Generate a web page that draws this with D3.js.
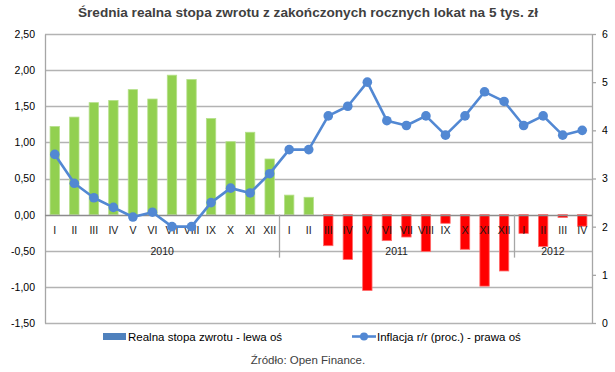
<!DOCTYPE html>
<html>
<head>
<meta charset="utf-8">
<script src="https://cdn.jsdelivr.net/npm/d3@7"></script>
<style>
  body { margin: 0; background: #fff; }
  svg { display: block; font-family: "Liberation Sans", Arial, sans-serif; }
</style>
</head>
<body>
<svg id="chart" width="615" height="372"></svg>
<script>
// categories
var months = ["I","II","III","IV","V","VI","VII","VIII","IX","X","XI","XII",
              "I","II","III","IV","V","VI","VII","VIII","IX","X","XI","XII",
              "I","II","III","IV"];
var years = [
    { label: "2010", first: 0, last: 11 },
    { label: "2011", first: 12, last: 23 },
    { label: "2012", first: 24, last: 27 },
];

// series
var realRate = [1.22, 1.35, 1.55, 1.58, 1.73, 1.60, 1.93, 1.87, 1.33, 1.01, 1.14, 0.77,
                0.27, 0.24, -0.43, -0.62, -1.05, -0.36, -0.31, -0.51, -0.12, -0.48, -0.99, -0.78,
                -0.26, -0.44, -0.04, -0.16];
var inflation = [3.5, 2.9, 2.6, 2.4, 2.2, 2.3, 2.0, 2.0, 2.5, 2.8, 2.7, 3.1,
                 3.6, 3.6, 4.3, 4.5, 5.0, 4.2, 4.1, 4.3, 3.9, 4.3, 4.8, 4.6,
                 4.1, 4.3, 3.9, 4.0];

// ticks
var leftTicks = [-1.5, -1.0, -0.5, 0, 0.5, 1.0, 1.5, 2.0, 2.5];
var rightTicks = [0, 1, 2, 3, 4, 5, 6];

var svg = d3.select("#chart");

var plot = { left: 45, right: 592, top: 34, bottom: 323 };

var x = d3.scaleBand()
    .domain(d3.range(months.length))
    .range([plot.left, plot.right])
    .padding(0);

var yLeft = d3.scaleLinear()
    .domain([-1.5, 2.5])
    .range([plot.bottom, plot.top]);

var yRight = d3.scaleLinear()
    .domain([0, 6])
    .range([plot.bottom, plot.top]);

var fmt = d => d.toFixed(2).replace(".", ",");

// title
svg.append("text")
    .attr("x", 308)
    .attr("y", 17)
    .attr("text-anchor", "middle")
    .attr("font-size", "13.6px")
    .attr("font-weight", "bold")
    .attr("fill", "#404040")
    .text("Średnia realna stopa zwrotu z zakończonych rocznych lokat na 5 tys. zł");

// grid
svg.append("g")
    .selectAll("line")
    .data(leftTicks.filter(d => d !== 0))
    .join("line")
    .attr("x1", plot.left)
    .attr("x2", plot.right)
    .attr("y1", d => Math.round(yLeft(d)) + 0.5)
    .attr("y2", d => Math.round(yLeft(d)) + 0.5)
    .attr("stroke", "#b3b3b3")
    .attr("stroke-width", 1.3);

// left axis
var leftAxis = svg.append("g")
    .attr("transform", `translate(${plot.left},0)`)
    .call(d3.axisLeft(yLeft).tickValues(leftTicks).tickSize(0).tickPadding(10).tickFormat(fmt));
leftAxis.select(".domain").attr("stroke", "#a6a6a6").attr("stroke-width", 1.3);
leftAxis.selectAll("text").attr("font-size", "10.5px").attr("fill", "#000");

// right axis
var rightAxis = svg.append("g")
    .attr("transform", `translate(${plot.right},0)`)
    .call(d3.axisRight(yRight).tickValues(rightTicks).tickSize(4).tickSizeOuter(0).tickPadding(6).tickFormat(d3.format("d")));
rightAxis.selectAll(".domain, line").attr("stroke", "#a6a6a6").attr("stroke-width", 1.3);
rightAxis.selectAll("text").attr("font-size", "10.5px").attr("fill", "#000");

// bars
var barW = x.bandwidth() * 0.48;
svg.append("g")
    .selectAll("rect")
    .data(realRate)
    .join("rect")
    .attr("x", (d, i) => x(i) + (x.bandwidth() - barW) / 2)
    .attr("y", d => yLeft(Math.max(0, d)))
    .attr("width", barW)
    .attr("height", d => Math.abs(yLeft(d) - yLeft(0)))
    .attr("fill", d => d >= 0 ? "#92d050" : "#ff0000")
    .attr("stroke", d => d >= 0 ? "#b5e08a" : "#ff6b6b")
    .attr("stroke-width", 0.8);

// category axis line at zero
svg.append("line")
    .attr("x1", plot.left)
    .attr("x2", plot.right)
    .attr("y1", Math.round(yLeft(0)) + 0.5)
    .attr("y2", Math.round(yLeft(0)) + 0.5)
    .attr("stroke", "#8c8c8c")
    .attr("stroke-width", 1.3);

// year separators
svg.append("g")
    .selectAll("line")
    .data(years.slice(1))
    .join("line")
    .attr("x1", d => Math.round(x(d.first)) + 0.5)
    .attr("x2", d => Math.round(x(d.first)) + 0.5)
    .attr("y1", yLeft(0))
    .attr("y2", yLeft(0) + 43)
    .attr("stroke", "#a6a6a6")
    .attr("stroke-width", 1.3);

// month labels
svg.append("g")
    .selectAll("text")
    .data(months)
    .join("text")
    .attr("x", (d, i) => x(i) + x.bandwidth() / 2)
    .attr("y", yLeft(0) + 19)
    .attr("text-anchor", "middle")
    .attr("font-size", "10.5px")
    .attr("fill", "#1a1a1a")
    .text(d => d);

// year labels
svg.append("g")
    .selectAll("text")
    .data(years)
    .join("text")
    .attr("x", d => (x(d.first) + x(d.last) + x.bandwidth()) / 2)
    .attr("y", yLeft(0) + 40)
    .attr("text-anchor", "middle")
    .attr("font-size", "10.5px")
    .attr("fill", "#1a1a1a")
    .text(d => d.label);

// inflation line
var lineColor = "#5288d3";
var line = d3.line()
    .x((d, i) => x(i) + x.bandwidth() / 2)
    .y(d => yRight(d));

svg.append("path")
    .datum(inflation)
    .attr("d", line)
    .attr("fill", "none")
    .attr("stroke", lineColor)
    .attr("stroke-width", 2.6)
    .attr("stroke-linejoin", "round");

svg.append("g")
    .selectAll("circle")
    .data(inflation)
    .join("circle")
    .attr("cx", (d, i) => x(i) + x.bandwidth() / 2)
    .attr("cy", d => yRight(d))
    .attr("r", 4.8)
    .attr("fill", lineColor);

// legend
var legend = svg.append("g").attr("font-size", "11.5px").attr("fill", "#000");
legend.append("rect")
    .attr("x", 103).attr("y", 333)
    .attr("width", 23).attr("height", 7)
    .attr("fill", "#4f81bd");
legend.append("text")
    .attr("x", 128).attr("y", 341)
    .text("Realna stopa zwrotu - lewa oś");
legend.append("line")
    .attr("x1", 352).attr("x2", 376)
    .attr("y1", 336.5).attr("y2", 336.5)
    .attr("stroke", lineColor)
    .attr("stroke-width", 2.6);
legend.append("circle")
    .attr("cx", 364).attr("cy", 336.5)
    .attr("r", 4)
    .attr("fill", lineColor);
legend.append("text")
    .attr("x", 377).attr("y", 341)
    .text("Inflacja r/r (proc.) - prawa oś");

// source
svg.append("text")
    .attr("x", 308)
    .attr("y", 364)
    .attr("text-anchor", "middle")
    .attr("font-size", "11.5px")
    .attr("fill", "#404040")
    .text("Źródło: Open Finance.");
</script>
</body>
</html>
